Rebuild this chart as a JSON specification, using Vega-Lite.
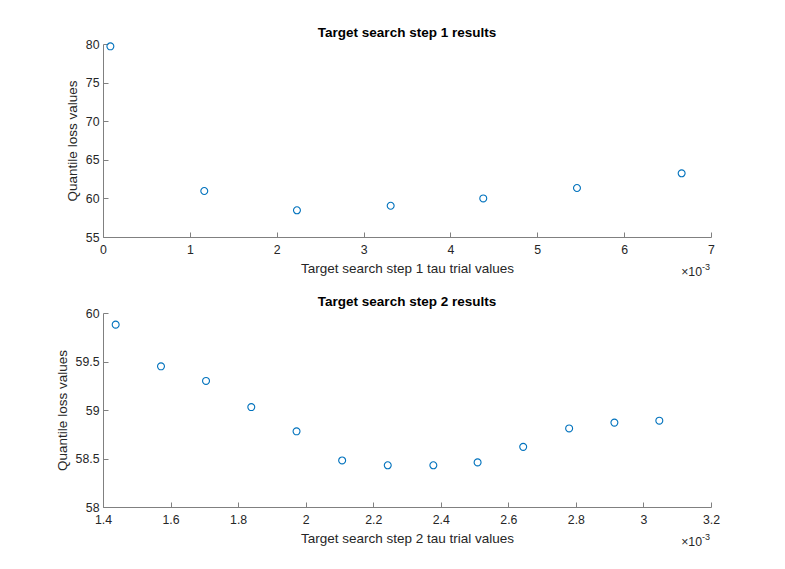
{
  "$schema": "https://vega.github.io/schema/vega-lite/v6.json",
  "padding": {"left": 55, "top": 25, "right": 5, "bottom": 5},
  "background": "white",
  "bounds": "flush",
  "spacing": 76,
  "datasets": {
    "step1": [
      {"tau": 0.000085, "loss": 79.7},
      {"tau": 0.001166, "loss": 60.96},
      {"tau": 0.002233, "loss": 58.46},
      {"tau": 0.003312, "loss": 59.05},
      {"tau": 0.004378, "loss": 60.0},
      {"tau": 0.005457, "loss": 61.35},
      {"tau": 0.006662, "loss": 63.25}
    ],
    "step2": [
      {"tau": 0.0014375, "loss": 59.88},
      {"tau": 0.0015717, "loss": 59.45},
      {"tau": 0.001705, "loss": 59.30},
      {"tau": 0.001839, "loss": 59.03},
      {"tau": 0.001973, "loss": 58.78},
      {"tau": 0.002108, "loss": 58.48},
      {"tau": 0.002243, "loss": 58.43},
      {"tau": 0.002378, "loss": 58.43},
      {"tau": 0.002509, "loss": 58.46},
      {"tau": 0.002644, "loss": 58.62},
      {"tau": 0.002780, "loss": 58.81},
      {"tau": 0.002914, "loss": 58.87},
      {"tau": 0.003047, "loss": 58.89}
    ],
    "note": [{"mult": "×10", "exp": "-3"}]
  },
  "vconcat": [
    {
      "width": 608,
      "height": 193,
      "title": {"text": "Target search step 1 results"},
      "layer": [
        {
          "data": {"name": "step1"},
          "mark": {"type": "point", "shape": "circle", "filled": false, "color": "#0072BD", "size": 48, "strokeWidth": 1.1, "opacity": 1},
          "encoding": {
            "x": {"field": "tau", "type": "quantitative", "scale": {"domain": [0, 0.007], "nice": false, "zero": false},
              "axis": {"title": "Target search step 1 tau trial values", "values": [0, 0.001, 0.002, 0.003, 0.004, 0.005, 0.006, 0.007], "tickCount": 20, "labelExpr": "format(datum.value*1000, '~g')", "labelOverlap": false}},
            "y": {"field": "loss", "type": "quantitative", "scale": {"domain": [55, 80], "nice": false, "zero": false},
              "axis": {"title": "Quantile loss values", "values": [55, 60, 65, 70, 75, 80], "tickCount": 20, "labelExpr": "format(datum.value, '~g')", "labelOverlap": false}}
          }
        },
        {
          "data": {"name": "note"},
          "mark": {"type": "text", "align": "right", "baseline": "alphabetic", "dx": -9, "dy": 39, "fontSize": 12.3, "font": "Liberation Sans", "color": "#262626"},
          "encoding": {"x": {"datum": 0.007, "type": "quantitative"}, "y": {"datum": 55, "type": "quantitative"}, "text": {"field": "mult"}}
        },
        {
          "data": {"name": "note"},
          "mark": {"type": "text", "align": "left", "baseline": "alphabetic", "dx": -9, "dy": 33, "fontSize": 9, "font": "Liberation Sans", "color": "#262626"},
          "encoding": {"x": {"datum": 0.007, "type": "quantitative"}, "y": {"datum": 55, "type": "quantitative"}, "text": {"field": "exp"}}
        }
      ]
    },
    {
      "width": 608,
      "height": 194,
      "title": {"text": "Target search step 2 results"},
      "layer": [
        {
          "data": {"name": "step2"},
          "mark": {"type": "point", "shape": "circle", "filled": false, "color": "#0072BD", "size": 48, "strokeWidth": 1.1, "opacity": 1},
          "encoding": {
            "x": {"field": "tau", "type": "quantitative", "scale": {"domain": [0.0014, 0.0032], "nice": false, "zero": false},
              "axis": {"title": "Target search step 2 tau trial values", "values": [0.0014, 0.0016, 0.0018, 0.002, 0.0022, 0.0024, 0.0026, 0.0028, 0.003, 0.0032], "tickCount": 20, "labelExpr": "format(datum.value*1000, '~g')", "labelOverlap": false}},
            "y": {"field": "loss", "type": "quantitative", "scale": {"domain": [58, 60], "nice": false, "zero": false},
              "axis": {"title": "Quantile loss values", "values": [58, 58.5, 59, 59.5, 60], "tickCount": 20, "labelExpr": "format(datum.value, '~g')", "labelOverlap": false}}
          }
        },
        {
          "data": {"name": "note"},
          "mark": {"type": "text", "align": "right", "baseline": "alphabetic", "dx": -9, "dy": 39, "fontSize": 12.3, "font": "Liberation Sans", "color": "#262626"},
          "encoding": {"x": {"datum": 0.0032, "type": "quantitative"}, "y": {"datum": 58, "type": "quantitative"}, "text": {"field": "mult"}}
        },
        {
          "data": {"name": "note"},
          "mark": {"type": "text", "align": "left", "baseline": "alphabetic", "dx": -9, "dy": 33, "fontSize": 9, "font": "Liberation Sans", "color": "#262626"},
          "encoding": {"x": {"datum": 0.0032, "type": "quantitative"}, "y": {"datum": 58, "type": "quantitative"}, "text": {"field": "exp"}}
        }
      ]
    }
  ],
  "config": {
    "view": {"stroke": null},
    "font": "Liberation Sans",
    "title": {"font": "Liberation Sans", "fontSize": 13.5, "fontWeight": "bold", "color": "#000000", "anchor": "middle", "offset": -1, "baseline": "alphabetic"},
    "axis": {
      "grid": false,
      "domainColor": "#808080",
      "domainWidth": 1,
      "tickColor": "#808080",
      "tickSize": -5,
      "tickWidth": 1,
      "labelFont": "Liberation Sans",
      "labelFontSize": 12.3,
      "labelColor": "#262626",
      "labelPadding": 11,
      "titleFont": "Liberation Sans",
      "titleFontSize": 13.5,
      "titleFontWeight": "normal",
      "titleColor": "#262626",
      "titlePadding": 6,
      "labelFlush": false,
      "labelOverlap": false
    },
    "axisY": {"labelPadding": 9, "titlePadding": 6}
  }
}
